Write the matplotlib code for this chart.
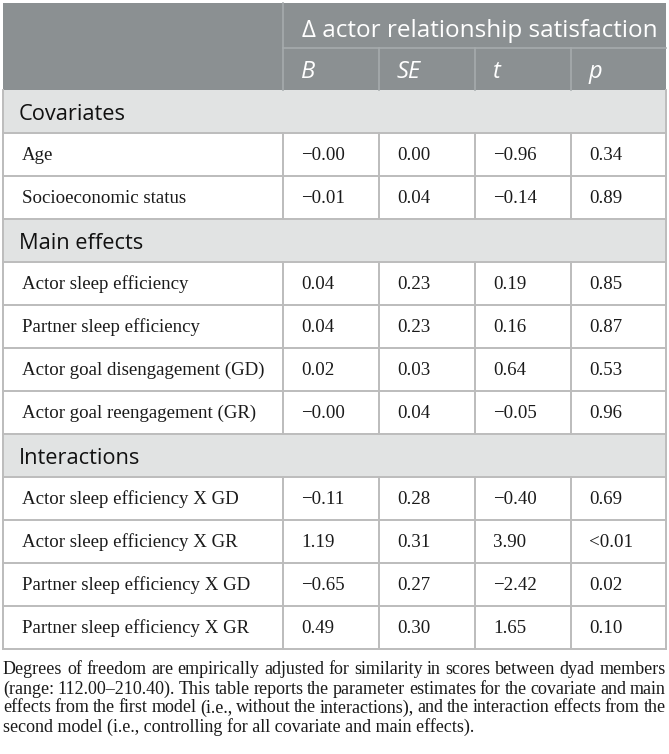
import matplotlib.pyplot as plt

# --- table content ---
header_group = "\u0394 actor relationship satisfaction"
stat_names = ["B", "SE", "t", "p"]

sections = ["Covariates", "Main effects", "Interactions"]
section_rows = [
    ["Age", "Socioeconomic status"],
    ["Actor sleep efficiency", "Partner sleep efficiency",
     "Actor goal disengagement (GD)", "Actor goal reengagement (GR)"],
    ["Actor sleep efficiency X GD", "Actor sleep efficiency X GR",
     "Partner sleep efficiency X GD", "Partner sleep efficiency X GR"],
]
b_vals = [["\u22120.00", "\u22120.01"],
          ["0.04", "0.04", "0.02", "\u22120.00"],
          ["\u22120.11", "1.19", "\u22120.65", "0.49"]]
se_vals = [["0.00", "0.04"],
           ["0.23", "0.23", "0.03", "0.04"],
           ["0.28", "0.31", "0.27", "0.30"]]
t_vals = [["\u22120.96", "\u22120.14"],
          ["0.19", "0.16", "0.64", "\u22120.05"],
          ["\u22120.40", "3.90", "\u22122.42", "1.65"]]
p_vals = [["0.34", "0.89"],
          ["0.85", "0.87", "0.53", "0.96"],
          ["0.69", "<0.01", "0.02", "0.10"]]

footnote_lines = [
    "Degrees of freedom are empirically adjusted for similarity in scores between dyad members",
    "(range: 112.00\u2013210.40). This table reports the parameter estimates for the covariate and main",
    "effects from the first model (i.e., without the interactions), and the interaction effects from the",
    "second model (i.e., controlling for all covariate and main effects).",
]

# --- layout (pixels) ---
W, H = 669, 754
col_edges = [3, 282.5, 379, 475, 570.5, 665.5]
top, mid, head_bot = 2.5, 47.5, 89.5
row_h = 43.0
pad = 18

dark = "#8b9092"
band = "#e1e3e3"
grid = "#bcbcbc"
head_line = "#a6abad"
serif = "Liberation Serif"
sans = "Open Sans"

fig = plt.figure(figsize=(W / 100, H / 100), dpi=100)
ax = fig.add_axes([0, 0, 1, 1])
ax.set_xlim(0, W)
ax.set_ylim(H, 0)
ax.axis("off")

left, right = col_edges[0], col_edges[-1]

# header block
ax.add_patch(plt.Rectangle((left, top), right - left, head_bot - top, color=dark, lw=0))
ax.plot([col_edges[1], right], [mid, mid], color=head_line, lw=1.2)
ax.plot([col_edges[1], col_edges[1]], [top, head_bot], color=head_line, lw=1.2)
for x in col_edges[2:-1]:
    ax.plot([x, x], [mid, head_bot], color=head_line, lw=1.2)
ax.text(col_edges[1] + pad + 1, 28, header_group, color="white",
        fontsize=17.5, family=sans, va="center_baseline", ha="left")
for i, name in enumerate(stat_names):
    ax.text(col_edges[i + 1] + pad, 69, name, color="white",
            fontsize=17, family=sans, style="italic", va="center_baseline", ha="left")

# body
y = head_bot
for s, sec in enumerate(sections):
    ax.add_patch(plt.Rectangle((left, y), right - left, row_h, color=band, lw=0))
    ax.text(left + pad - 2, y + row_h / 2 + 1, sec, color="#111111", fontsize=15.7,
            family=sans, va="center_baseline", ha="left")
    ax.plot([left, right], [y + row_h, y + row_h], color=grid, lw=1.4)
    y += row_h
    for r, label in enumerate(section_rows[s]):
        cells = [label, b_vals[s][r], se_vals[s][r], t_vals[s][r], p_vals[s][r]]
        for c, txt in enumerate(cells):
            ax.text(col_edges[c] + pad + 0.5, y + row_h / 2 + 1.5, txt, color="#1a1a1a",
                    fontsize=13.6, family=serif, va="center", ha="left")
        for x in col_edges[1:-1]:
            ax.plot([x, x], [y, y + row_h], color=grid, lw=1.4)
        ax.plot([left, right], [y + row_h, y + row_h], color=grid, lw=1.4)
        y += row_h

table_bot = y
ax.plot([left, left], [head_bot, table_bot], color=grid, lw=1.4)
ax.plot([right, right], [head_bot, table_bot], color=grid, lw=1.4)

# footnote, justified
renderer = fig.canvas.get_renderer()
fn_size = 13.0
line_y = [668, 687, 706, 724.5]
for k, line in enumerate(footnote_lines):
    words = line.split(" ")
    if k == len(footnote_lines) - 1:
        ax.text(left, line_y[k], line, fontsize=fn_size, family=serif, color="#1a1a1a",
                va="center_baseline", ha="left")
        continue
    arts = [ax.text(0, line_y[k], w, fontsize=fn_size, family=serif, color="#1a1a1a",
                    va="center_baseline", ha="left") for w in words]
    widths = [a.get_window_extent(renderer).width for a in arts]
    gap = (right - left - sum(widths)) / (len(words) - 1)
    x = left
    for a, w in zip(arts, widths):
        a.set_x(x)
        x += w + gap

fig.savefig("out.png", dpi=100)
